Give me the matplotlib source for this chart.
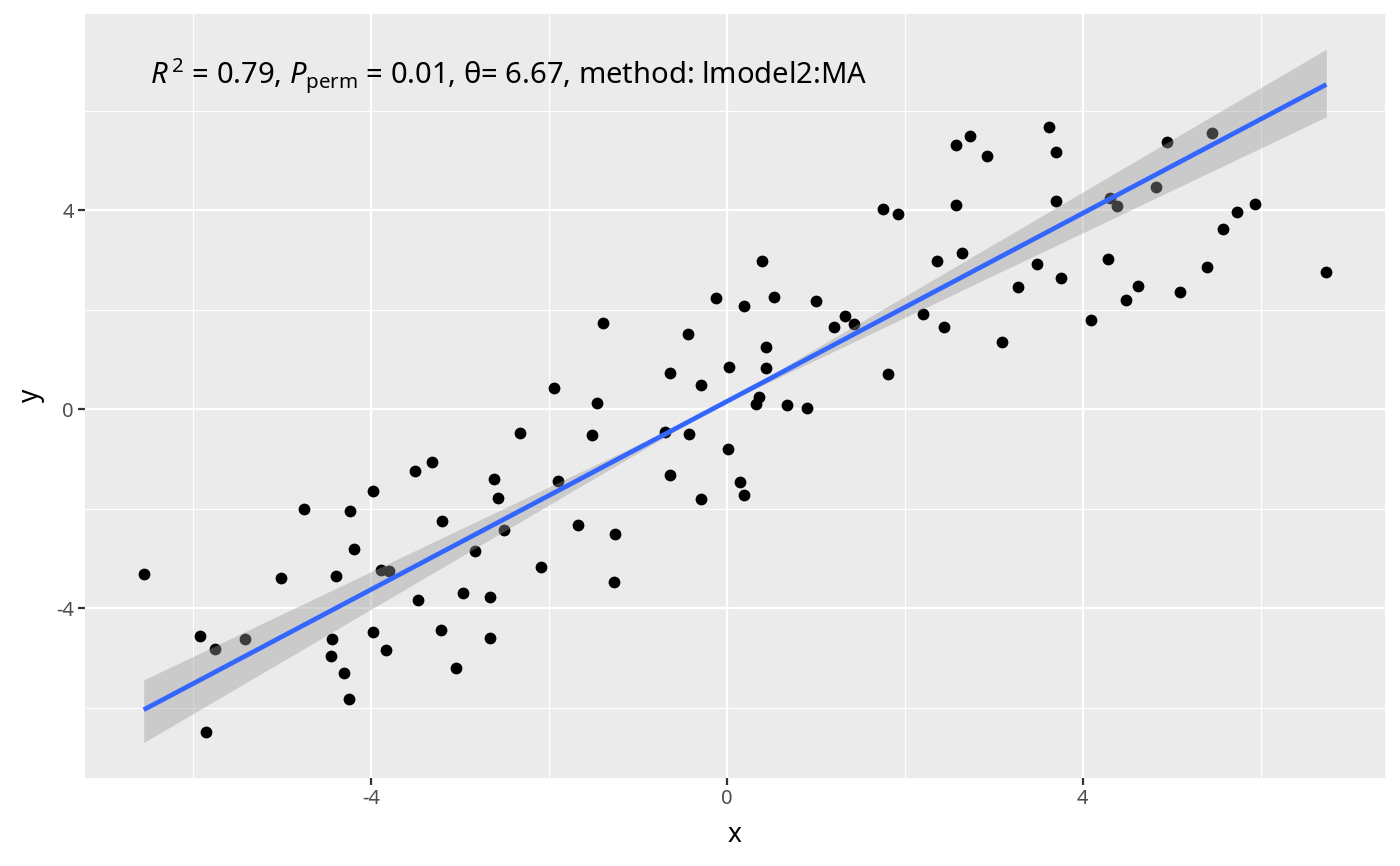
import numpy as np
import matplotlib
matplotlib.use("Agg")
import matplotlib.pyplot as plt
from matplotlib.ticker import FixedLocator

# punkty
x_vals = [-6.56, -5.93, -5.76, -5.42, -5.86, -5.02, -4.76, -4.24, -4.19, -4.40,
          -3.98, -4.44, -4.45, -4.31, -4.25, -3.98, -3.84, -3.89, -3.80, -3.51,
          -3.32, -3.20, -3.47, -2.97, -2.67, -3.22, -2.66, -3.05, -2.83, -2.51,
          -2.62, -2.58, -2.33, -2.09, -1.40, -1.94, -1.46, -1.52, -1.90, -0.64,
          -0.44, -0.29, -0.70, -0.43, -0.64, -0.29, 0.01, 0.15, 0.19, 0.02,
          -0.12, 0.19, 0.39, 0.53, 0.44, 0.44, 0.36, 0.33, 0.67, 0.90,
          1.00, 1.20, 1.33, 1.43, 1.81, -1.67, -1.26, -1.27, 1.75, 1.92,
          2.57, 2.73, 2.92, 2.58, 2.64, 2.36, 2.20, 2.44, 3.09, 3.27,
          3.49, 3.76, 3.62, 3.70, 3.70, 4.09, 4.29, 4.31, 4.39, 4.49,
          4.62, 4.82, 4.95, 5.10, 5.40, 5.45, 5.58, 5.73, 5.94, 6.74]
y_vals = [-3.32, -4.55, -4.81, -4.62, -6.48, -3.40, -2.00, -2.04, -2.81, -3.35,
          -1.65, -4.61, -4.95, -5.31, -5.83, -4.48, -4.83, -3.24, -3.26, -1.24,
          -1.05, -2.25, -3.84, -3.70, -3.77, -4.44, -4.59, -5.21, -2.84, -2.43,
          -1.41, -1.79, -0.47, -3.18, 1.74, 0.43, 0.13, -0.51, -1.44, 0.73,
          1.51, 0.49, -0.45, -0.50, -1.32, -1.80, -0.79, -1.47, -1.72, 0.85,
          2.24, 2.07, 2.99, 2.26, 1.26, 0.84, 0.24, 0.11, 0.09, 0.02,
          2.18, 1.65, 1.88, 1.72, 0.70, -2.32, -2.51, -3.47, 4.02, 3.93,
          5.31, 5.49, 5.09, 4.10, 3.15, 2.98, 1.92, 1.65, 1.35, 2.45,
          2.93, 2.63, 5.68, 5.18, 4.18, 1.79, 3.02, 4.25, 4.08, 2.19,
          2.48, 4.47, 5.37, 2.35, 2.86, 5.55, 3.63, 3.96, 4.12, 2.76]

# linia MA (lmodel2) i przedział ufności
fit_x = [-6.56, 6.74]
fit_y = [-6.04, 6.53]
band_a = [-5.44, 5.88]
band_b = [-6.70, 7.24]

label = r"$\it{R}^{\,2}$ = 0.79, $\it{P}_{\rm{perm}}$ = 0.01, θ= 6.67, method: lmodel2:MA"

plt.rcParams['font.family'] = ['Noto Sans', 'DejaVu Sans']
plt.rcParams['mathtext.fontset'] = 'custom'
plt.rcParams['mathtext.rm'] = 'Noto Sans'
plt.rcParams['mathtext.it'] = 'Noto Sans:italic'

fig = plt.figure(figsize=(14, 8.66), dpi=100)
ax = fig.add_axes([0.0607, 0.102, 0.9286, 0.8818])
ax.set_facecolor('#EBEBEB')

ax.scatter(x_vals, y_vals, s=72, color='black', linewidths=0, zorder=3)
ax.fill_between(fit_x, band_a, band_b, color='#999999', alpha=0.4, linewidth=0, zorder=4)
ax.plot(fit_x, fit_y, color='#3366FF', linewidth=3.4, solid_capstyle='butt', zorder=5)

ax.set_xlim(-7.22, 7.40)
ax.set_ylim(-7.405, 7.946)
ax.xaxis.set_major_locator(FixedLocator([-4, 0, 4]))
ax.yaxis.set_major_locator(FixedLocator([-4, 0, 4]))
ax.xaxis.set_minor_locator(FixedLocator([-6, -2, 2, 6]))
ax.yaxis.set_minor_locator(FixedLocator([-6, -2, 2, 6]))
ax.set_xticklabels(['-4', '0', '4'])
ax.set_yticklabels(['-4', '0', '4'])

ax.grid(which='major', color='white', linewidth=1.6, zorder=0)
ax.grid(which='minor', color='white', linewidth=0.8, zorder=0)
ax.set_axisbelow(True)
for sp in ax.spines.values():
    sp.set_visible(False)

ax.tick_params(which='major', length=5, width=1.6, color='#333333',
               labelsize=14.5, labelcolor='#4D4D4D', pad=3)
ax.tick_params(which='minor', length=0)

ax.set_xlabel('x', fontsize=19, labelpad=9)
ax.set_ylabel('y', fontsize=19, labelpad=8)

ax.text(0.05, 0.945, label, transform=ax.transAxes, ha='left', va='top',
        fontsize=21, color='black', zorder=6)

fig.savefig('out.png', dpi=100)
